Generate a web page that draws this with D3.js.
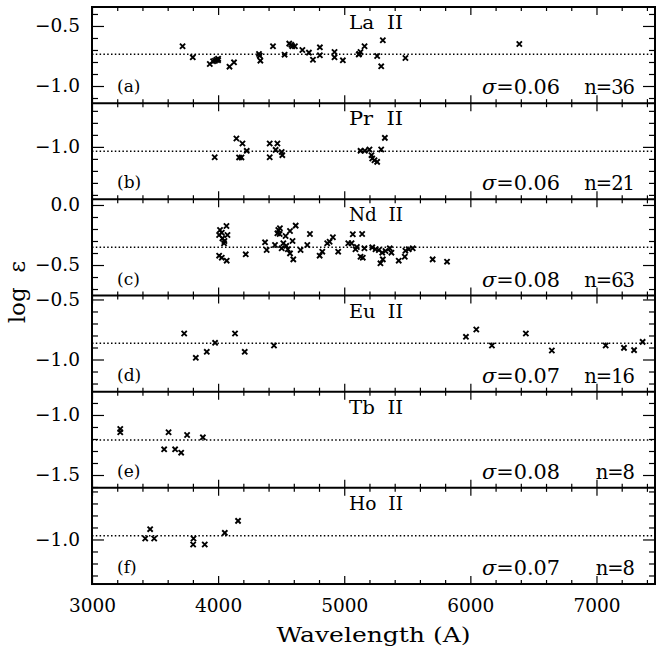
<!DOCTYPE html>
<html>
<head>
<meta charset="utf-8">
<script src="https://cdn.jsdelivr.net/npm/d3@7"></script>
<style>
  body { margin: 0; background: #fff; }
  text { font-family: "DejaVu Serif", serif; fill: #000; }
</style>
</head>
<body>
<div id="chart"></div>
<script>
"use strict"

// ions, panel letters and the labels in the lower right corner
let ions = ["La  II", "Pr  II", "Nd  II", "Eu  II", "Tb  II", "Ho  II"];
let letters = ["(a)", "(b)", "(c)", "(d)", "(e)", "(f)"];
let sigmas = ["0.06", "0.06", "0.08", "0.07", "0.08", "0.07"];
let counts = [36, 21, 63, 16, 8, 8];
let means = [-0.736, -1.036, -0.353, -0.864, -1.208, -0.97];

// y range of each panel
let yTop = [-0.342, -0.636, 0.047, -0.467, -0.806, -0.57];
let yBottom = [-1.143, -1.437, -0.754, -1.268, -1.607, -1.371];

// [wavelength, log eps]
let laII = [
    [3718, -0.669], [3799, -0.761], [3934, -0.817], [3960, -0.794], [3975, -0.79],
    [3987, -0.781], [4000, -0.773], [4090, -0.839], [4126, -0.803], [4324, -0.733],
    [4330, -0.748], [4335, -0.789], [4435, -0.669], [4527, -0.739], [4564, -0.647],
    [4580, -0.657], [4588, -0.669], [4609, -0.669], [4668, -0.70], [4720, -0.722],
    [4752, -0.781], [4807, -0.678], [4807, -0.744], [4923, -0.717], [4923, -0.761],
    [4989, -0.786], [5115, -0.738], [5119, -0.733], [5129, -0.717], [5161, -0.669],
    [5261, -0.75], [5293, -0.836], [5306, -0.619], [5485, -0.767], [6388, -0.65],
    [4000, -0.785]
];

let prII = [
    [3973, -1.086], [4145, -0.93], [4193, -0.972], [4166, -1.088], [4185, -1.088],
    [4227, -1.033], [4409, -0.972], [4470, -0.972], [4409, -1.086], [4456, -1.025],
    [4509, -1.069], [4504, -1.042], [5129, -1.033], [5163, -1.033], [5200, -1.022],
    [5222, -1.097], [5240, -1.111], [5261, -1.125], [5293, -1.022], [5322, -0.925],
    [5216, -1.069]
];

let ndII = [
    [4066, -0.175], [4015, -0.208], [4074, -0.25], [4008, -0.25], [4029, -0.231],
    [4034, -0.278], [4047, -0.319], [4008, -0.422], [4029, -0.439], [4068, -0.464],
    [4219, -0.411], [4372, -0.311], [4385, -0.375], [4451, -0.333], [4477, -0.208],
    [4488, -0.242], [4470, -0.236], [4490, -0.194], [4517, -0.319], [4504, -0.361],
    [4535, -0.258], [4570, -0.217], [4615, -0.172], [4553, -0.369], [4570, -0.403],
    [4596, -0.453], [4654, -0.375], [4728, -0.242], [4707, -0.333], [4805, -0.422],
    [4826, -0.389], [4865, -0.319], [4884, -0.306], [4910, -0.269], [4952, -0.389],
    [5032, -0.319], [5058, -0.319], [5068, -0.244], [5142, -0.242], [5089, -0.369],
    [5129, -0.431], [5147, -0.439], [5222, -0.353], [5248, -0.369], [5274, -0.375],
    [5301, -0.397], [5287, -0.486], [5306, -0.453], [5327, -0.383], [5361, -0.361],
    [5374, -0.397], [5432, -0.464], [5480, -0.431], [5485, -0.381], [5511, -0.369],
    [5543, -0.361], [5701, -0.453], [5815, -0.472], [4050, -0.30], [4540, -0.34],
    [5100, -0.35], [5160, -0.36], [4590, -0.30]
];

let euII = [
    [3731, -0.783], [3823, -0.986], [3910, -0.936], [3976, -0.861], [4134, -0.783],
    [4211, -0.936], [4443, -0.883], [5965, -0.811], [6047, -0.75], [6171, -0.883],
    [6440, -0.783], [6646, -0.925], [7073, -0.883], [7218, -0.903], [7298, -0.922],
    [7366, -0.853]
];

let tbII = [
    [3224, -1.117], [3224, -1.144], [3607, -1.144], [3572, -1.286], [3659, -1.286],
    [3707, -1.314], [3754, -1.167], [3879, -1.186]
];

let hoII = [
    [3422, -0.992], [3461, -0.914], [3493, -0.992], [3805, -0.992], [3802, -1.042],
    [3894, -1.042], [4053, -0.945], [4158, -0.845]
];

let series = [laII, prII, ndII, euII, tbII, hoII];

let waveMajor = [3000, 4000, 5000, 6000, 7000];

// layout
let width = 659,
    height = 661,
    left = 92,
    right = 655,
    plotTop = 7,
    panelH = 96.17;

let svg = d3.select("#chart")
    .append("svg")
    .attr("width", width)
    .attr("height", height);

let x = d3.scaleLinear().domain([3000, 7464]).range([left, right]);
let waveMinor = d3.range(3200, 7464, 200).filter(function (v) { return v % 1000 !== 0; });

// helper: inward ticks without domain line
function ticks(g, axis, values, size, transform) {
    g.append("g")
        .attr("transform", transform)
        .call(axis.tickValues(values).tickSize(-size).tickFormat(""))
        .call(function (a) {
            a.select(".domain").remove();
            a.selectAll("line").attr("stroke", "#000").attr("stroke-width", 1.2);
        });
}

function cross(s) {
    return "M" + (-s) + "," + (-s) + "L" + s + "," + s + "M" + (-s) + "," + s + "L" + s + "," + (-s);
}

series.forEach(function (pts, i) {
    let y0 = plotTop + i * panelH,
        y1 = y0 + panelH;
    let y = d3.scaleLinear().domain([yBottom[i], yTop[i]]).range([y1, y0]);
    let g = svg.append("g");

    // mean value
    g.append("line")
        .attr("x1", left).attr("x2", right)
        .attr("y1", y(means[i])).attr("y2", y(means[i]))
        .attr("stroke", "#000")
        .attr("stroke-width", 1.5)
        .attr("stroke-dasharray", "1.5,2.3");

    // x ticks on top and bottom edge of every panel
    ticks(g, d3.axisTop(x), waveMajor, 8, "translate(0," + y0 + ")");
    ticks(g, d3.axisTop(x), waveMinor, 4, "translate(0," + y0 + ")");
    ticks(g, d3.axisBottom(x), waveMajor, 8, "translate(0," + y1 + ")");
    ticks(g, d3.axisBottom(x), waveMinor, 4, "translate(0," + y1 + ")");

    // y ticks
    let lo = Math.ceil(yBottom[i] * 10 - 1e-6), hi = Math.floor(yTop[i] * 10 + 1e-6);
    let yAll = d3.range(lo, hi + 1).map(function (v) { return v / 10; });
    let yMajor = yAll.filter(function (v) { return Math.abs(v * 2 - Math.round(v * 2)) < 1e-6; });
    let yMinor = yAll.filter(function (v) { return yMajor.indexOf(v) < 0; });
    ticks(g, d3.axisLeft(y), yMajor, 12, "translate(" + left + ",0)");
    ticks(g, d3.axisLeft(y), yMinor, 6, "translate(" + left + ",0)");
    ticks(g, d3.axisRight(y), yMajor, 12, "translate(" + right + ",0)");
    ticks(g, d3.axisRight(y), yMinor, 6, "translate(" + right + ",0)");

    // y labels
    g.append("g")
        .attr("transform", "translate(" + left + ",0)")
        .call(d3.axisLeft(y).tickValues(yMajor).tickSize(0).tickPadding(12).tickFormat(d3.format(".1f")))
        .call(function (a) {
            a.select(".domain").remove();
            a.selectAll("text")
                .attr("font-family", '"DejaVu Serif", serif')
                .attr("font-size", 18.5);
        });

    // crosses
    g.selectAll("path.pt")
        .data(pts)
        .enter()
        .append("path")
        .attr("class", "pt")
        .attr("d", cross(2.6))
        .attr("transform", function (d) { return "translate(" + x(d[0]) + "," + y(d[1]) + ")"; })
        .attr("stroke", "#000")
        .attr("stroke-width", 1.9)
        .attr("fill", "none");

    // texts
    g.append("text")
        .attr("x", 349).attr("y", y0 + 22)
        .attr("font-size", 19)
        .attr("textLength", 54)
        .attr("lengthAdjust", "spacingAndGlyphs")
        .style("white-space", "pre")
        .text(ions[i]);

    g.append("text")
        .attr("x", 117).attr("y", y1 - 11)
        .attr("font-size", 17)
        .text(letters[i]);

    let sig = g.append("text")
        .attr("x", 482).attr("y", y1 - 9)
        .attr("font-size", 20)
        .attr("textLength", 78)
        .attr("lengthAdjust", "spacingAndGlyphs");
    sig.append("tspan").attr("font-style", "italic").text("σ");
    sig.append("tspan").text("=" + sigmas[i]);

    g.append("text")
        .attr("x", 634).attr("y", y1 - 9)
        .attr("text-anchor", "end")
        .attr("font-size", 19.5)
        .attr("letter-spacing", -1)
        .text("n=" + counts[i]);

    // frame lines
    g.append("line")
        .attr("x1", left).attr("x2", right)
        .attr("y1", y0).attr("y2", y0)
        .attr("stroke", "#000").attr("stroke-width", 2);
});

let bottom = plotTop + 6 * panelH;

svg.append("rect")
    .attr("x", left).attr("y", plotTop)
    .attr("width", right - left).attr("height", bottom - plotTop)
    .attr("fill", "none")
    .attr("stroke", "#000")
    .attr("stroke-width", 2);

// x labels
svg.append("g")
    .attr("transform", "translate(0," + bottom + ")")
    .call(d3.axisBottom(x).tickValues(waveMajor).tickSize(0).tickPadding(15).tickFormat(d3.format("d")))
    .call(function (a) {
        a.select(".domain").remove();
        a.selectAll("text")
            .attr("font-family", '"DejaVu Serif", serif')
            .attr("font-size", 18.5);
    });

svg.append("text")
    .attr("x", (left + right) / 2).attr("y", 642)
    .attr("text-anchor", "middle")
    .attr("font-size", 21)
    .attr("textLength", 194)
    .attr("lengthAdjust", "spacingAndGlyphs")
    .text("Wavelength (A)");

svg.append("text")
    .attr("transform", "translate(25,292) rotate(-90)")
    .attr("text-anchor", "middle")
    .attr("font-size", 23)
    .text("log\u00a0\u00a0ε");
</script>
</body>
</html>
